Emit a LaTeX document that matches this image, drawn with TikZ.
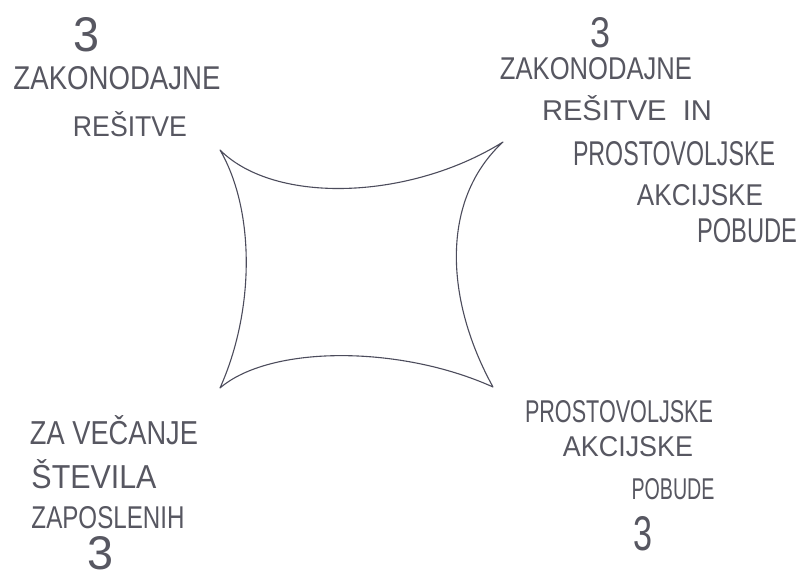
\documentclass[tikz,border=0pt]{standalone}
\usepackage{fontspec}
\setmainfont{Liberation Sans}
\usepackage{graphicx}
\definecolor{hand}{rgb}{0.34,0.34,0.38}
\definecolor{pen}{rgb}{0.30,0.30,0.36}
\newcommand{\fitbox}[3]{\resizebox{#1pt}{#2pt}{#3}}
\tikzset{
  lbl/.style={inner sep=0pt, outer sep=0pt, text=hand, anchor=center},
  outline/.style={draw=pen, line width=1.1pt, line join=round}
}
\begin{document}
\begin{tikzpicture}[x=1pt,y=-1pt]
\useasboundingbox (0,0) rectangle (798,580);
\fill[white] (0,0) rectangle (798,580);

% the concave square
\coordinate (ctl) at (220,150);
\coordinate (ctr) at (503,142);
\coordinate (cbr) at (493,387);
\coordinate (cbl) at (220,388);
\draw[outline] (ctl) .. controls (275,205) and (410,200) .. (ctr)
  .. controls (440,200) and (445,300) .. (cbr)
  .. controls (400,345) and (270,345) .. (cbl)
  .. controls (255,310) and (255,210) .. (ctl) -- cycle;

% top left
\node[lbl] (tl3) at (87,35) {\fitbox{26}{34}{3}};
\node[lbl] (tla) at (117,78) {\fitbox{207}{23}{ZAKONODAJNE}};
\node[lbl] (tlb) at (130,124) {\fitbox{114}{25}{REŠITVE}};

% top right
\node[lbl] (tr3) at (600,33) {\fitbox{20}{30}{3}};
\node[lbl] (tra) at (596,69) {\fitbox{192}{22}{ZAKONODAJNE}};
\node[lbl] (trb) at (627,108) {\fitbox{170}{25}{REŠITVE\ \ IN}};
\node[lbl] (trc) at (674,154) {\fitbox{202}{24}{PROSTOVOLJSKE}};
\node[lbl] (trd) at (700,195) {\fitbox{126}{21}{AKCIJSKE}};
\node[lbl] (tre) at (747,231) {\fitbox{100}{24}{POBUDE}};

% bottom left
\node[lbl] (bla) at (114,430) {\fitbox{168}{29}{ZA VEČANJE}};
\node[lbl] (blb) at (94,474) {\fitbox{125}{29}{ŠTEVILA}};
\node[lbl] (blc) at (108,518) {\fitbox{153}{22}{ZAPOSLENIH}};
\node[lbl] (bl3) at (101,553) {\fitbox{26}{33}{3}};

% bottom right
\node[lbl] (bra) at (619,412) {\fitbox{188}{22}{PROSTOVOLJSKE}};
\node[lbl] (brb) at (628,447) {\fitbox{130}{20}{AKCIJSKE}};
\node[lbl] (brc) at (673,489) {\fitbox{83}{21}{POBUDE}};
\node[lbl] (br3) at (643,534) {\fitbox{19}{34}{3}};
\end{tikzpicture}
\end{document}
